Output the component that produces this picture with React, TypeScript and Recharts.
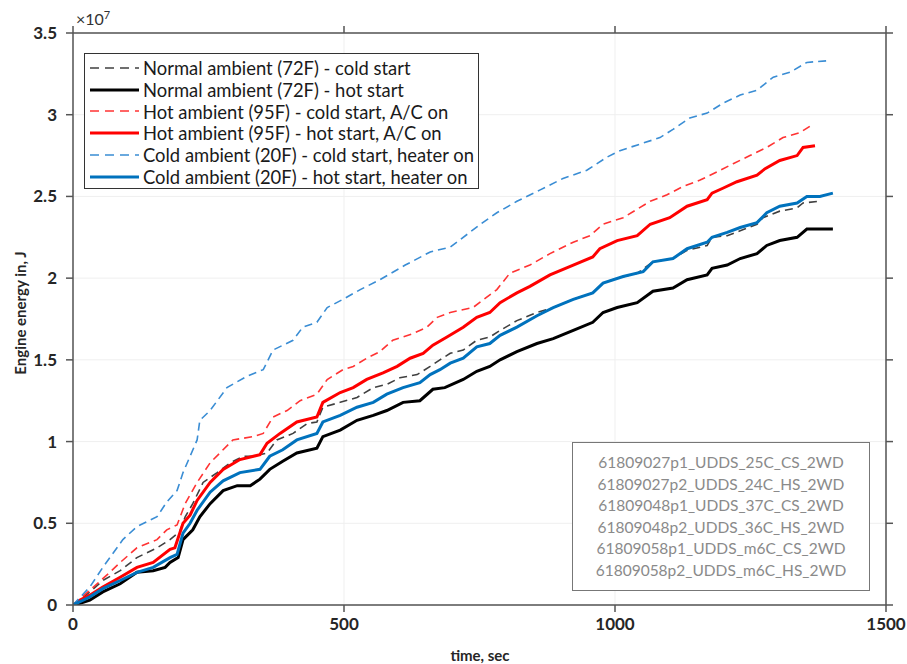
import React from 'react';
import { LineChart, Line, XAxis, YAxis, CartesianGrid } from 'recharts';

// cumulative engine energy, [time in s, energy in 1e7 J]
const normalCold: [number, number][] = [
  [0, 0], [31, 0.08], [55, 0.15], [87, 0.21], [118, 0.29], [155, 0.35], [179, 0.4], [197, 0.45],
  [207, 0.54], [221, 0.62], [240, 0.75], [266, 0.81], [290, 0.87], [314, 0.91], [332, 0.91],
  [358, 0.93], [376, 1.01], [406, 1.05], [432, 1.11], [450, 1.12], [461, 1.21], [493, 1.24],
  [524, 1.27], [554, 1.33], [579, 1.35], [603, 1.39], [635, 1.41], [659, 1.46], [677, 1.5],
  [696, 1.54], [720, 1.56], [745, 1.62], [769, 1.64], [788, 1.68], [819, 1.74], [856, 1.79],
  [886, 1.82], [923, 1.87], [959, 1.91], [978, 1.97], [1004, 2.0], [1041, 2.03], [1070, 2.1],
  [1107, 2.12], [1133, 2.17], [1170, 2.2], [1179, 2.25], [1207, 2.26], [1231, 2.29], [1262, 2.33],
  [1273, 2.37], [1304, 2.41], [1336, 2.43], [1347, 2.46], [1375, 2.47],
];

const normalHot: [number, number][] = [
  [0, 0], [13, 0.01], [31, 0.03], [55, 0.08], [87, 0.13], [118, 0.2], [148, 0.21], [170, 0.23],
  [179, 0.26], [194, 0.29], [203, 0.4], [221, 0.46], [234, 0.54], [253, 0.62], [277, 0.7],
  [303, 0.73], [327, 0.73], [345, 0.77], [363, 0.83], [387, 0.88], [413, 0.93], [450, 0.96],
  [461, 1.03], [493, 1.07], [524, 1.13], [554, 1.16], [579, 1.19], [609, 1.24], [640, 1.25],
  [664, 1.32], [686, 1.33], [720, 1.38], [745, 1.43], [769, 1.46], [788, 1.5], [819, 1.55],
  [856, 1.6], [886, 1.63], [923, 1.68], [959, 1.73], [978, 1.79], [1004, 1.82], [1041, 1.85],
  [1070, 1.92], [1107, 1.94], [1133, 1.99], [1170, 2.02], [1179, 2.06], [1207, 2.08], [1231, 2.12],
  [1262, 2.15], [1280, 2.2], [1304, 2.23], [1336, 2.25], [1354, 2.3], [1402, 2.3],
];

const hotCold: [number, number][] = [
  [0, 0], [31, 0.09], [68, 0.2], [87, 0.26], [118, 0.35], [155, 0.4], [173, 0.46], [192, 0.49],
  [207, 0.62], [229, 0.75], [253, 0.87], [271, 0.93], [295, 1.01], [332, 1.03], [351, 1.05],
  [369, 1.15], [395, 1.19], [419, 1.25], [450, 1.29], [469, 1.38], [498, 1.44], [517, 1.46],
  [542, 1.51], [566, 1.55], [590, 1.62], [627, 1.66], [653, 1.7], [672, 1.76], [696, 1.79],
  [738, 1.82], [782, 1.93], [806, 2.03], [843, 2.08], [880, 2.15], [923, 2.22], [954, 2.26],
  [978, 2.33], [1015, 2.37], [1065, 2.47], [1096, 2.51], [1125, 2.56], [1157, 2.6], [1188, 2.65],
  [1218, 2.7], [1249, 2.75], [1280, 2.8], [1310, 2.86], [1341, 2.89], [1360, 2.93],
];

const hotHot: [number, number][] = [
  [0, 0], [13, 0.03], [31, 0.06], [55, 0.11], [87, 0.17], [118, 0.23], [148, 0.26], [179, 0.34],
  [188, 0.35], [203, 0.5], [216, 0.55], [229, 0.64], [253, 0.75], [277, 0.83], [308, 0.89],
  [345, 0.92], [358, 0.99], [382, 1.05], [413, 1.12], [450, 1.15], [461, 1.24], [493, 1.3],
  [517, 1.33], [542, 1.38], [572, 1.42], [598, 1.46], [622, 1.51], [646, 1.54], [664, 1.59],
  [690, 1.64], [720, 1.7], [745, 1.76], [769, 1.79], [788, 1.85], [819, 1.91], [843, 1.95],
  [880, 2.02], [923, 2.08], [959, 2.13], [972, 2.18], [1004, 2.23], [1041, 2.26], [1065, 2.33],
  [1101, 2.37], [1133, 2.44], [1170, 2.48], [1179, 2.52], [1199, 2.55], [1225, 2.59], [1262, 2.63],
  [1277, 2.67], [1304, 2.72], [1336, 2.75], [1347, 2.8], [1369, 2.81],
];

const coldCold: [number, number][] = [
  [0, 0], [31, 0.11], [55, 0.23], [92, 0.4], [118, 0.48], [155, 0.54], [173, 0.63], [192, 0.7],
  [203, 0.81], [229, 1.01], [234, 1.13], [253, 1.19], [284, 1.33], [321, 1.4], [351, 1.44],
  [369, 1.56], [406, 1.62], [424, 1.7], [450, 1.73], [469, 1.82], [498, 1.87], [530, 1.93],
  [566, 1.99], [613, 2.08], [659, 2.16], [696, 2.19], [732, 2.28], [756, 2.34], [782, 2.4],
  [819, 2.47], [862, 2.54], [904, 2.61], [948, 2.66], [985, 2.74], [1009, 2.78], [1046, 2.82],
  [1083, 2.86], [1107, 2.91], [1138, 2.98], [1170, 3.01], [1199, 3.07], [1231, 3.12], [1262, 3.15],
  [1292, 3.23], [1323, 3.26], [1354, 3.32], [1391, 3.33],
];

const coldHot: [number, number][] = [
  [0, 0], [13, 0.02], [31, 0.05], [55, 0.1], [87, 0.15], [118, 0.2], [148, 0.23], [179, 0.29],
  [192, 0.31], [203, 0.44], [216, 0.5], [229, 0.58], [253, 0.69], [277, 0.76], [308, 0.81],
  [345, 0.83], [363, 0.91], [387, 0.95], [413, 1.01], [450, 1.05], [461, 1.12], [493, 1.16],
  [524, 1.21], [554, 1.24], [579, 1.29], [609, 1.33], [640, 1.36], [659, 1.41], [677, 1.44],
  [696, 1.48], [720, 1.51], [745, 1.58], [769, 1.6], [788, 1.65], [819, 1.7], [856, 1.77],
  [886, 1.82], [923, 1.87], [959, 1.91], [978, 1.97], [1015, 2.01], [1052, 2.04], [1070, 2.1],
  [1107, 2.12], [1133, 2.18], [1170, 2.22], [1179, 2.25], [1207, 2.28], [1231, 2.31], [1262, 2.34],
  [1280, 2.4], [1304, 2.44], [1336, 2.46], [1354, 2.5], [1378, 2.5], [1402, 2.52],
];

const xTicks = [0, 500, 1000, 1500];
const yTicks = [0, 0.5, 1, 1.5, 2, 2.5, 3, 3.5];

const testRuns = [
  '61809027p1_UDDS_25C_CS_2WD',
  '61809027p2_UDDS_24C_HS_2WD',
  '61809048p1_UDDS_37C_CS_2WD',
  '61809048p2_UDDS_36C_HS_2WD',
  '61809058p1_UDDS_m6C_CS_2WD',
  '61809058p2_UDDS_m6C_HS_2WD',
];

// the last series is plotted on the top/right axis pair (same domains) so those axes get drawn
const series = [
  { name: 'Normal ambient (72F) - cold start', points: normalCold, color: '#404040', dashed: true, frame: false },
  { name: 'Normal ambient (72F) - hot start', points: normalHot, color: '#000000', dashed: false, frame: false },
  { name: 'Hot ambient (95F) - cold start, A/C on', points: hotCold, color: '#ff3333', dashed: true, frame: false },
  { name: 'Hot ambient (95F) - hot start, A/C on', points: hotHot, color: '#ff0000', dashed: false, frame: false },
  { name: 'Cold ambient (20F) - cold start, heater on', points: coldCold, color: '#3a8dd4', dashed: true, frame: false },
  { name: 'Cold ambient (20F) - hot start, heater on', points: coldHot, color: '#0072bd', dashed: false, frame: true },
];

const font = 'Lato, "Noto Sans", sans-serif';
const axisColor = '#555555';
const tickStyle = { fontFamily: font, fontSize: 17, fontWeight: 700, fill: '#262626' };
const noLabel = () => '';

export default function App() {
  return (
    <div style={{ position: 'absolute', left: 0, top: 0, width: 907, height: 664, background: '#fff', fontFamily: font }}>
      <LineChart width={907} height={664} margin={{ top: 32, right: 20, bottom: 0, left: 0 }}>
        <CartesianGrid stroke="#efefef" />
        <XAxis
          dataKey="t"
          type="number"
          domain={[0, 1500]}
          ticks={xTicks}
          height={59}
          stroke={axisColor}
          strokeWidth={1.5}
          tickSize={7}
          tickMargin={6}
          tick={tickStyle}
          allowDataOverflow
        />
        <XAxis
          xAxisId="top"
          orientation="top"
          dataKey="t"
          type="number"
          domain={[0, 1500]}
          ticks={xTicks}
          height={1}
          stroke={axisColor}
          strokeWidth={1.5}
          tickSize={7}
          tickFormatter={noLabel}
          allowDataOverflow
        />
        <YAxis
          type="number"
          domain={[0, 3.5]}
          ticks={yTicks}
          width={73}
          stroke={axisColor}
          strokeWidth={1.5}
          tickSize={7}
          tickMargin={9}
          tick={tickStyle}
          allowDataOverflow
        />
        <YAxis
          yAxisId="right"
          orientation="right"
          type="number"
          domain={[0, 3.5]}
          ticks={yTicks}
          width={1}
          stroke={axisColor}
          strokeWidth={1.5}
          tickSize={7}
          tickFormatter={noLabel}
          allowDataOverflow
        />
        {series.map((s) => (
          <Line
            key={s.name}
            name={s.name}
            xAxisId={s.frame ? 'top' : 0}
            yAxisId={s.frame ? 'right' : 0}
            data={s.points.map(([t, e]) => ({ t, e }))}
            dataKey="e"
            type="linear"
            stroke={s.color}
            strokeWidth={s.dashed ? 1.6 : 3}
            strokeDasharray={s.dashed ? '8 5' : undefined}
            dot={false}
            activeDot={false}
            isAnimationActive={false}
          />
        ))}
      </LineChart>

      {/* exponent above the y axis */}
      <div style={{ position: 'absolute', left: 76, top: 8, fontSize: 16, color: '#333' }}>
        ×10<sup style={{ fontSize: 11 }}>7</sup>
      </div>

      <div
        style={{
          position: 'absolute', left: 480, top: 655, transform: 'translate(-50%, -50%)',
          whiteSpace: 'nowrap', fontSize: 15, fontWeight: 700, color: '#262626',
        }}
      >
        time, sec
      </div>
      <div
        style={{
          position: 'absolute', left: 20, top: 313, transform: 'translate(-50%, -50%) rotate(-90deg)',
          whiteSpace: 'nowrap', fontSize: 15, fontWeight: 700, color: '#262626',
        }}
      >
        Engine energy in, J
      </div>

      {/* legend */}
      <div
        style={{
          position: 'absolute', left: 84, top: 53, width: 395, height: 136, boxSizing: 'border-box',
          border: '1px solid #333', background: '#fff', padding: '3px 0 0 4px',
        }}
      >
        {series.map((s) => (
          <div key={s.name} style={{ display: 'flex', alignItems: 'center', height: 21.8, fontSize: 18.4, color: '#1a1a1a', whiteSpace: 'nowrap' }}>
            <svg width={54} height={10} style={{ flex: 'none' }}>
              <line
                x1={1} x2={50} y1={5} y2={5}
                stroke={s.color}
                strokeWidth={s.dashed ? 1.6 : 3}
                strokeDasharray={s.dashed ? '9 6' : undefined}
              />
            </svg>
            {s.name}
          </div>
        ))}
      </div>

      {/* test run ids */}
      <div
        style={{
          position: 'absolute', left: 572, top: 442, width: 298, height: 149, boxSizing: 'border-box',
          border: '1px solid #777', background: '#fff', paddingTop: 9, textAlign: 'center',
          fontSize: 15.5, color: '#8a8a8a',
        }}
      >
        {testRuns.map((r) => (
          <div key={r} style={{ height: 21.5, lineHeight: '21.5px' }}>{r}</div>
        ))}
      </div>
    </div>
  );
}
